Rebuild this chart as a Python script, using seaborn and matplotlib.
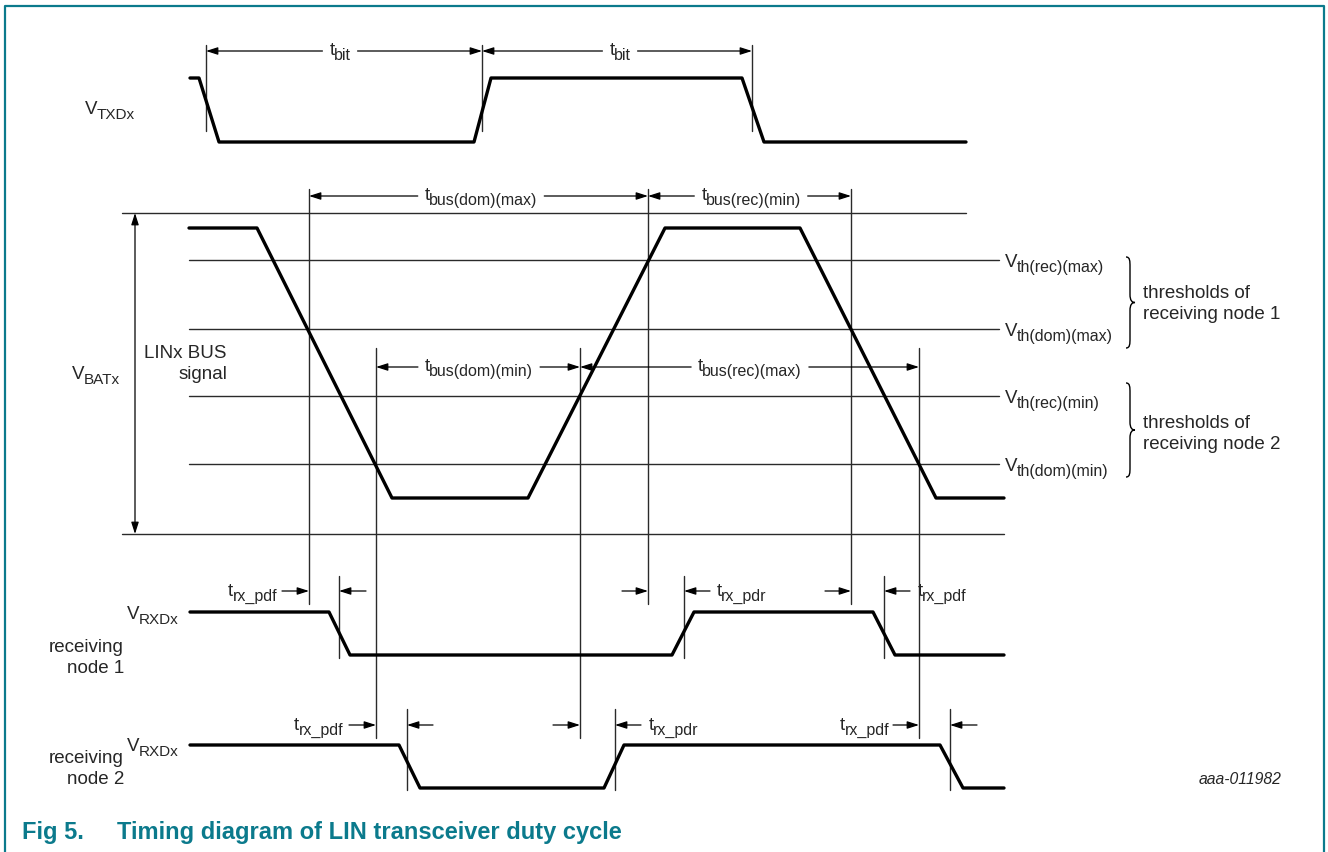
import numpy as np
import seaborn as sns
import matplotlib.pyplot as plt
from matplotlib.path import Path
from matplotlib.patches import PathPatch

# Waveform breakpoints (time axis in drawing units) and logic levels
txd_t = [190, 199, 219, 474, 491, 742, 764, 966]
txd_level = [1, 1, 0, 0, 1, 1, 0, 0]
bus_t = [189, 257, 392, 528, 665, 800, 936, 1004]
bus_level = [1, 1, 0, 0, 1, 1, 0, 0]
rxd1_t = [190, 329, 350, 672, 694, 873, 895, 1004]
rxd1_level = [1, 1, 0, 0, 1, 1, 0, 0]
rxd2_t = [190, 399, 420, 604, 624, 940, 963, 1004]
rxd2_level = [1, 1, 0, 0, 1, 1, 0, 0]

# threshold levels on the bus and their names (subscripts)
th_levels = [260, 329, 396, 464]
th_names = ["th(rec)(max)", "th(dom)(max)", "th(rec)(min)", "th(dom)(min)"]

# times where the bus crosses the thresholds
cross_node1 = [309, 648, 851]
cross_node2 = [376, 580, 919]
txd_marks = [206, 482, 752]
rxd1_marks = [339, 684, 884]
rxd2_marks = [407, 615, 950]

sns.set_theme(style="white")
plt.rcParams["font.family"] = ["Liberation Sans", "DejaVu Sans"]

teal = "#0b7a8c"
thin = "#2a2a2a"
FS = 13.5
SFS = 11.5

fig = plt.figure(figsize=(13.28, 8.52), dpi=100)
ax = fig.add_axes([0, 0, 1, 1])
ax.set_xlim(0, 1328)
ax.set_ylim(852, 0)
renderer = fig.canvas.get_renderer()


def width(s, size):
    t = ax.text(0, 0, s, fontsize=size)
    w = t.get_window_extent(renderer).width * 1328 / fig.bbox.width
    t.remove()
    return w


def sublabel(x, y, main, sub, ha="left", ssize=SFS, drop=5):
    """main text with a subscript, y is the main baseline; returns extent."""
    wm = width(main, FS) - 1
    ws = width(sub, ssize)
    tot = wm + ws
    x0 = {"left": x, "center": x - tot / 2, "right": x - tot}[ha]
    ax.text(x0, y, main, fontsize=FS, va="baseline", ha="left")
    ax.text(x0 + wm, y + drop, sub, fontsize=ssize, va="baseline", ha="left")
    return x0, x0 + tot


def trace(t, level, hi, lo):
    y = [lo + v * (hi - lo) for v in level]
    sns.lineplot(x=t, y=y, sort=False, estimator=None, color="black",
                 linewidth=2.4, ax=ax, zorder=5)


trace(txd_t, txd_level, 78, 142)
trace(bus_t, bus_level, 228, 498)
trace(rxd1_t, rxd1_level, 612, 655)
trace(rxd2_t, rxd2_level, 745, 788)

# bus rails and thresholds
ax.plot([122, 966], [213, 213], color=thin, lw=1.0)
ax.plot([122, 1004], [534, 534], color=thin, lw=1.0)
for yv, name in zip(th_levels, th_names):
    ax.plot([189, 999], [yv, yv], color=thin, lw=1.0)
    sublabel(1005, yv + 7, "V", name)

# vertical marker lines
for x in cross_node1:
    ax.plot([x, x], [189, 604], color=thin, lw=1.0)
for x in cross_node2:
    ax.plot([x, x], [348, 738], color=thin, lw=1.0)
for x in txd_marks:
    ax.plot([x, x], [45, 131], color=thin, lw=1.0)
for x in rxd1_marks:
    ax.plot([x, x], [576, 658], color=thin, lw=1.0)
for x in rxd2_marks:
    ax.plot([x, x], [709, 790], color=thin, lw=1.0)

head = "-|>,head_length=0.5,head_width=0.16"
dhead = "<|-|>,head_length=0.5,head_width=0.16"


def pointer(x_from, x_to, y):
    ax.annotate("", xy=(x_to, y), xytext=(x_from, y),
                arrowprops=dict(arrowstyle=head, color="black", lw=0.9,
                                mutation_scale=14, shrinkA=0, shrinkB=0))


def span(x0, x1, y, sub, cx=None):
    cx = (x0 + x1) / 2 if cx is None else cx
    a, b = sublabel(cx, y + 4, "t", sub, ha="center")
    pointer(a - 7, x0, y)
    pointer(b + 7, x1, y)


span(206, 482, 51, "bit", cx=340)
span(482, 752, 51, "bit", cx=620)
span(309, 648, 196, "bus(dom)(max)", cx=481)
span(648, 851, 196, "bus(rec)(min)", cx=751)
span(376, 580, 367, "bus(dom)(min)", cx=479)
span(580, 919, 367, "bus(rec)(max)", cx=750)

# VBAT double arrow
ax.annotate("", xy=(135, 534), xytext=(135, 213),
            arrowprops=dict(arrowstyle=dhead, color="black", lw=0.9,
                            mutation_scale=14, shrinkA=0, shrinkB=0))

# propagation delay pointers
pointer(282, 309, 591)
pointer(366, 339, 591)
pointer(622, 648, 591)
pointer(710, 684, 591)
pointer(825, 851, 591)
pointer(910, 884, 591)
sublabel(277, 596, "t", "rx_pdf", ha="right")
sublabel(717, 596, "t", "rx_pdr")
sublabel(918, 596, "t", "rx_pdf")

pointer(349, 376, 725)
pointer(433, 407, 725)
pointer(553, 580, 725)
pointer(641, 615, 725)
pointer(893, 919, 725)
pointer(977, 950, 725)
sublabel(343, 730, "t", "rx_pdf", ha="right")
sublabel(649, 730, "t", "rx_pdr")
sublabel(889, 730, "t", "rx_pdf", ha="right")

# left labels
sublabel(85, 114, "V", "TXDx", ssize=11)
sublabel(72, 379, "V", "BATx", ssize=11)
ax.text(227, 364, "LINx BUS\nsignal", fontsize=FS, ha="right", va="center",
        multialignment="right", linespacing=1.25)
sublabel(127, 619, "V", "RXDx", ssize=11)
ax.text(124, 658, "receiving\nnode 1", fontsize=FS, ha="right", va="center",
        multialignment="right", linespacing=1.25)
sublabel(127, 751, "V", "RXDx", ssize=11)
ax.text(124, 769, "receiving\nnode 2", fontsize=FS, ha="right", va="center",
        multialignment="right", linespacing=1.25)


# braces for threshold groups
def brace(x0, y1, y2):
    ym = (y1 + y2) / 2
    verts = [(x0, y1), (x0 + 4, y1), (x0 + 4, y1 + 4), (x0 + 4, y1 + 10),
             (x0 + 4, ym - 8),
             (x0 + 4, ym - 2), (x0 + 6, ym), (x0 + 9, ym),
             (x0 + 6, ym), (x0 + 4, ym + 2), (x0 + 4, ym + 8),
             (x0 + 4, y2 - 10),
             (x0 + 4, y2 - 4), (x0 + 4, y2), (x0, y2)]
    codes = [Path.MOVETO, Path.CURVE4, Path.CURVE4, Path.CURVE4, Path.LINETO,
             Path.CURVE4, Path.CURVE4, Path.CURVE4,
             Path.CURVE4, Path.CURVE4, Path.CURVE4, Path.LINETO,
             Path.CURVE4, Path.CURVE4, Path.CURVE4]
    ax.add_patch(PathPatch(Path(verts, codes), facecolor="none",
                           edgecolor="black", lw=1.0))


brace(1126, 257, 348)
brace(1126, 383, 477)
ax.text(1143, 304, "thresholds of\nreceiving node 1", fontsize=FS, ha="left",
        va="center", linespacing=1.25)
ax.text(1143, 434, "thresholds of\nreceiving node 2", fontsize=FS, ha="left",
        va="center", linespacing=1.25)

ax.text(1282, 780, "aaa-011982", fontsize=11.3, style="italic", ha="right",
        va="center")

# frame and caption
ax.plot([5, 5, 1324, 1324], [852, 6, 6, 852], color=teal, lw=1.6)
ax.text(22, 833, "Fig 5.", fontsize=17, fontweight="bold", color=teal, va="center")
ax.text(117, 833, "Timing diagram of LIN transceiver duty cycle", fontsize=17,
        fontweight="bold", color=teal, va="center")

ax.set_xlim(0, 1328)
ax.set_ylim(852, 0)
ax.axis("off")

fig.savefig("out.png", dpi=100)
